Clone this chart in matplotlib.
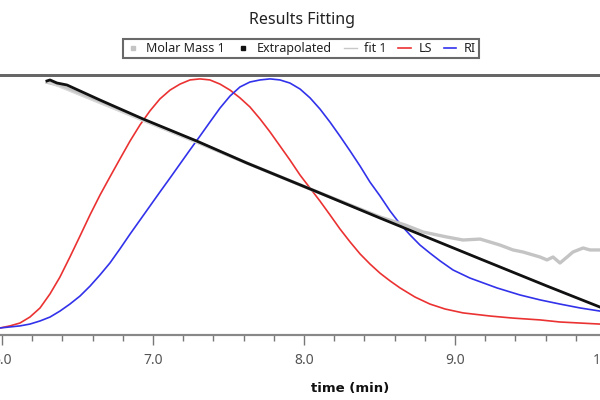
import matplotlib
matplotlib.use("Agg")
import matplotlib.pyplot as plt
from matplotlib.lines import Line2D
from matplotlib.ticker import MultipleLocator, FormatStrFormatter

plt.rcParams['font.family'] = ['Noto Sans', 'DejaVu Sans']

# detector traces (relative signal, 0..1)
ls_time = [5.987, 6.053, 6.119, 6.185, 6.252, 6.318, 6.384, 6.450, 6.517, 6.583,
           6.649, 6.715, 6.781, 6.848, 6.914, 6.980, 7.046, 7.113, 7.179, 7.245,
           7.311, 7.377, 7.444, 7.510, 7.576, 7.642, 7.709, 7.775, 7.841, 7.907,
           7.974, 8.040, 8.106, 8.172, 8.238, 8.305, 8.371, 8.437, 8.503, 8.570,
           8.636, 8.735, 8.834, 8.934, 9.053, 9.232, 9.384, 9.563, 9.695, 9.828, 9.960]
ls_signal = [0.027, 0.035, 0.046, 0.069, 0.104, 0.158, 0.223, 0.300, 0.381, 0.462,
             0.538, 0.608, 0.677, 0.746, 0.808, 0.862, 0.908, 0.942, 0.965, 0.981,
             0.985, 0.981, 0.965, 0.942, 0.912, 0.877, 0.831, 0.781, 0.727, 0.673,
             0.615, 0.565, 0.515, 0.462, 0.408, 0.358, 0.312, 0.273, 0.238, 0.208,
             0.181, 0.146, 0.119, 0.100, 0.085, 0.073, 0.065, 0.058, 0.050, 0.046, 0.042]

ri_time = [5.987, 6.053, 6.119, 6.185, 6.252, 6.318, 6.384, 6.450, 6.517, 6.583,
           6.649, 6.715, 6.781, 6.848, 6.914, 6.980, 7.046, 7.113, 7.179, 7.245,
           7.311, 7.377, 7.444, 7.510, 7.576, 7.642, 7.709, 7.775, 7.841, 7.907,
           7.974, 8.040, 8.106, 8.172, 8.238, 8.305, 8.371, 8.437, 8.503, 8.570,
           8.636, 8.702, 8.768, 8.834, 8.901, 8.987, 9.099, 9.278, 9.430, 9.563,
           9.695, 9.828, 9.960]
ri_signal = [0.027, 0.031, 0.035, 0.042, 0.054, 0.069, 0.092, 0.119, 0.150, 0.188,
             0.231, 0.277, 0.331, 0.388, 0.442, 0.496, 0.550, 0.604, 0.658, 0.712,
             0.765, 0.819, 0.873, 0.919, 0.954, 0.973, 0.981, 0.985, 0.981, 0.969,
             0.946, 0.912, 0.869, 0.819, 0.765, 0.708, 0.650, 0.588, 0.535, 0.477,
             0.427, 0.385, 0.346, 0.315, 0.285, 0.250, 0.219, 0.181, 0.154, 0.135,
             0.119, 0.104, 0.092]

# molar mass (g/mol, log scale)
mm_time = [6.298, 6.384, 6.517, 6.649, 6.934, 7.291, 7.623, 8.060, 8.503, 8.669,
           8.788, 8.947, 9.053, 9.166, 9.232, 9.298, 9.384, 9.450, 9.563, 9.609,
           9.649, 9.695, 9.742, 9.781, 9.848, 9.894, 9.960]
mm_value = [8.80e5, 8.30e5, 7.15e5, 6.20e5, 4.51e5, 3.05e5, 2.10e5, 1.30e5, 8.09e4, 7.02e4,
            6.20e4, 5.67e4, 5.38e4, 5.47e4, 5.19e4, 4.92e4, 4.51e4, 4.35e4, 3.98e4, 3.78e4,
            3.98e4, 3.58e4, 3.98e4, 4.35e4, 4.67e4, 4.51e4, 4.51e4]

ext_time = [6.298, 6.318, 6.364, 6.430, 6.649, 6.934, 7.291, 7.623, 8.060, 8.503,
            9.166, 9.609, 9.960]
ext_value = [9.00e5, 9.16e5, 8.68e5, 8.38e5, 6.42e5, 4.59e5, 3.10e5, 2.10e5, 1.30e5,
             7.94e4, 3.85e4, 2.38e4, 1.64e4]

fit_time = [6.298, 9.960]
fit_value = [8.84e5, 1.64e4]

red = '#eb3232'
blue = '#3232eb'

fig = plt.figure(figsize=(6, 4), dpi=100)
xmin, xmax = 5.987, 10.02
ax = fig.add_axes([0, 0.1625, (xmax - xmin) / 3.973, 0.65])
ax.set_xlim(xmin, xmax)
ax.set_ylim(0, 1)

ax.plot(ls_time, ls_signal, color=red, lw=1.2, zorder=3)
ax.plot(ri_time, ri_signal, color=blue, lw=1.2, zorder=3)

ax2 = ax.twinx()
ax2.set_yscale('log')
ax2.set_ylim(1e4, 1e6)
ax2.plot(mm_time, mm_value, color='#c4c4c4', lw=2.4, zorder=2)
ax2.plot(fit_time, fit_value, color='#d8d8d8', lw=1.0, zorder=2)
ax2.plot(ext_time, ext_value, color='#111111', lw=2.0, zorder=4)
ax2.set_yticks([])
ax2.minorticks_off()
ax2.tick_params(axis='y', which='both', right=False, labelright=False)

for a in (ax, ax2):
    for s in ('left', 'right'):
        a.spines[s].set_visible(False)
    a.spines['top'].set_color('#666666')
    a.spines['top'].set_linewidth(2)
    a.spines['bottom'].set_color('#888888')
    a.spines['bottom'].set_linewidth(1.5)

ax.set_yticks([])
ax.xaxis.set_major_locator(MultipleLocator(1.0))
ax.xaxis.set_minor_locator(MultipleLocator(0.2))
ax.xaxis.set_major_formatter(FormatStrFormatter('%.1f'))
ax.tick_params(axis='x', which='major', length=7, width=1, color='#777777',
               labelsize=10, labelcolor='#555555', pad=6)
ax.tick_params(axis='x', which='minor', length=4, width=1, color='#777777')

ax.set_xlabel('time (min)', fontsize=9.5, fontweight='bold', color='#111111',
              family='DejaVu Sans')
ax.xaxis.set_label_coords(0.575, -0.18)

fig.text(0.503, 1 - 20 / 400, 'Results Fitting', ha='center', va='center',
         fontsize=11.5, color='#222222')

handles = [
    Line2D([], [], ls='none', marker='s', ms=3, color='#c4c4c4'),
    Line2D([], [], ls='none', marker='s', ms=3, color='#111111'),
    Line2D([], [], color='#c8c8c8', lw=1),
    Line2D([], [], color=red, lw=1.2),
    Line2D([], [], color=blue, lw=1.2),
]
labels = ['Molar Mass 1', 'Extrapolated', 'fit 1', 'LS', 'RI']
leg = fig.legend(handles, labels, loc='center', bbox_to_anchor=(0.502, 1 - 48.5 / 400),
                 ncol=5, fontsize=9, frameon=True, fancybox=False, handlelength=1.0,
                 handletextpad=0.6, columnspacing=0.95, borderpad=0.25)
leg.get_frame().set_edgecolor('#444444')
leg.get_frame().set_linewidth(1.5)
for t in leg.get_texts():
    t.set_color('#222222')

fig.savefig('out.png', dpi=100)
